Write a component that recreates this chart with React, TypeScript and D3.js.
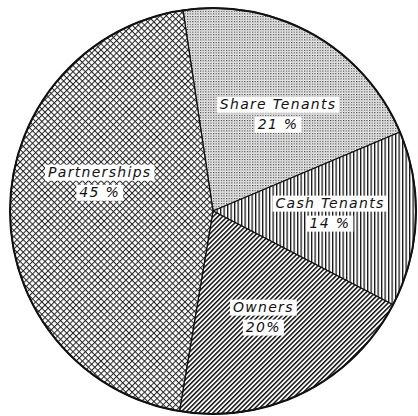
import { useEffect, useRef } from "react";
import * as d3 from "d3";

// tenure shares, clockwise from the top
const categories = ["Share Tenants", "Cash Tenants", "Owners", "Partnerships"];
const shares = [21, 14, 20, 45];
const pctLabels = ["21 %", "14 %", "20%", "45 %"];
const patternIds = ["stipple", "vlines", "diag", "cross"];

const W = 418;
const H = 416;

export default function App() {
  const svgRef = useRef<SVGSVGElement>(null);

  useEffect(() => {
    if (!svgRef.current) return;
    const svg = d3.select(svgRef.current);
    svg.selectAll("*").remove();

    const cx = 213;
    const cy = 211;
    const r = 203;
    const start = (-8.5 * Math.PI) / 180;

    const defs = svg.append("defs");

    // fine stipple
    const st = defs.append("pattern").attr("id", "stipple")
      .attr("patternUnits", "userSpaceOnUse").attr("width", 2.6).attr("height", 2.6);
    st.append("rect").attr("width", 2.6).attr("height", 2.6).attr("fill", "#fff");
    st.append("rect").attr("x", 0).attr("y", 0).attr("width", 1.2).attr("height", 1.1).attr("fill", "#222");
    st.append("rect").attr("x", 1.3).attr("y", 1.3).attr("width", 0.9).attr("height", 0.9).attr("fill", "#777");

    // vertical rules
    const vl = defs.append("pattern").attr("id", "vlines")
      .attr("patternUnits", "userSpaceOnUse").attr("width", 3.5).attr("height", 10);
    vl.append("rect").attr("width", 3.5).attr("height", 10).attr("fill", "#fff");
    vl.append("rect").attr("x", 0).attr("width", 1.3).attr("height", 10).attr("fill", "#111");

    // diagonal rules "/"
    const dg = defs.append("pattern").attr("id", "diag")
      .attr("patternUnits", "userSpaceOnUse").attr("width", 3.3).attr("height", 10)
      .attr("patternTransform", "rotate(45)");
    dg.append("rect").attr("width", 3.3).attr("height", 10).attr("fill", "#fff");
    dg.append("rect").attr("width", 1.5).attr("height", 10).attr("fill", "#111");

    // cross hatch
    const cr = defs.append("pattern").attr("id", "cross")
      .attr("patternUnits", "userSpaceOnUse").attr("width", 4.4).attr("height", 4.4)
      .attr("patternTransform", "rotate(45)");
    cr.append("rect").attr("width", 4.4).attr("height", 4.4).attr("fill", "#fff");
    cr.append("rect").attr("width", 1).attr("height", 4.4).attr("fill", "#222");
    cr.append("rect").attr("width", 4.4).attr("height", 1).attr("fill", "#222");

    const pie = d3.pie<number>().sort(null).value((d) => d)
      .startAngle(start).endAngle(start + 2 * Math.PI);
    const arcs = pie(shares);

    const arc = d3.arc<d3.PieArcDatum<number>>().innerRadius(0).outerRadius(r);
    const g = svg.append("g").attr("transform", `translate(${cx},${cy})`);

    g.selectAll("path.slice")
      .data(arcs)
      .enter().append("path")
      .attr("class", "slice")
      .attr("d", arc)
      .attr("fill", (_, i) => `url(#${patternIds[i]})`)
      .attr("stroke", "#111")
      .attr("stroke-width", 1.3)
      .attr("stroke-linejoin", "round");

    g.append("circle").attr("r", r).attr("fill", "none")
      .attr("stroke", "#111").attr("stroke-width", 2);

    // label placement: a little off the centroid where the original sits
    const nudgeDeg = [4.5, -1.5, 1, 14];
    const labelR = 117;

    arcs.forEach((a, i) => {
      const ang = (a.startAngle + a.endAngle) / 2 + (nudgeDeg[i] * Math.PI) / 180;
      const lx = Math.sin(ang) * labelR;
      const ly = -Math.cos(ang) * labelR;
      const lines = [categories[i], pctLabels[i]];
      lines.forEach((txt, j) => {
        const lg = g.append("g");
        const t = lg.append("text")
          .attr("x", lx)
          .attr("y", ly - 5 + j * 20)
          .attr("text-anchor", "middle")
          .attr("font-family", "DejaVu Sans, sans-serif")
          .attr("font-style", "italic")
          .attr("font-size", 14)
          .attr("letter-spacing", 1.3)
          .attr("fill", "#111")
          .text(txt);
        const bb = (t.node() as SVGTextElement).getBBox();
        lg.insert("rect", "text")
          .attr("x", bb.x - 3)
          .attr("y", bb.y + 1)
          .attr("width", bb.width + 6)
          .attr("height", bb.height)
          .attr("fill", "#fff");
      });
    });
  }, []);

  return (
    <svg
      ref={svgRef}
      width={W}
      height={H}
      style={{ position: "absolute", left: 0, top: 0, background: "#fff" }}
    />
  );
}
